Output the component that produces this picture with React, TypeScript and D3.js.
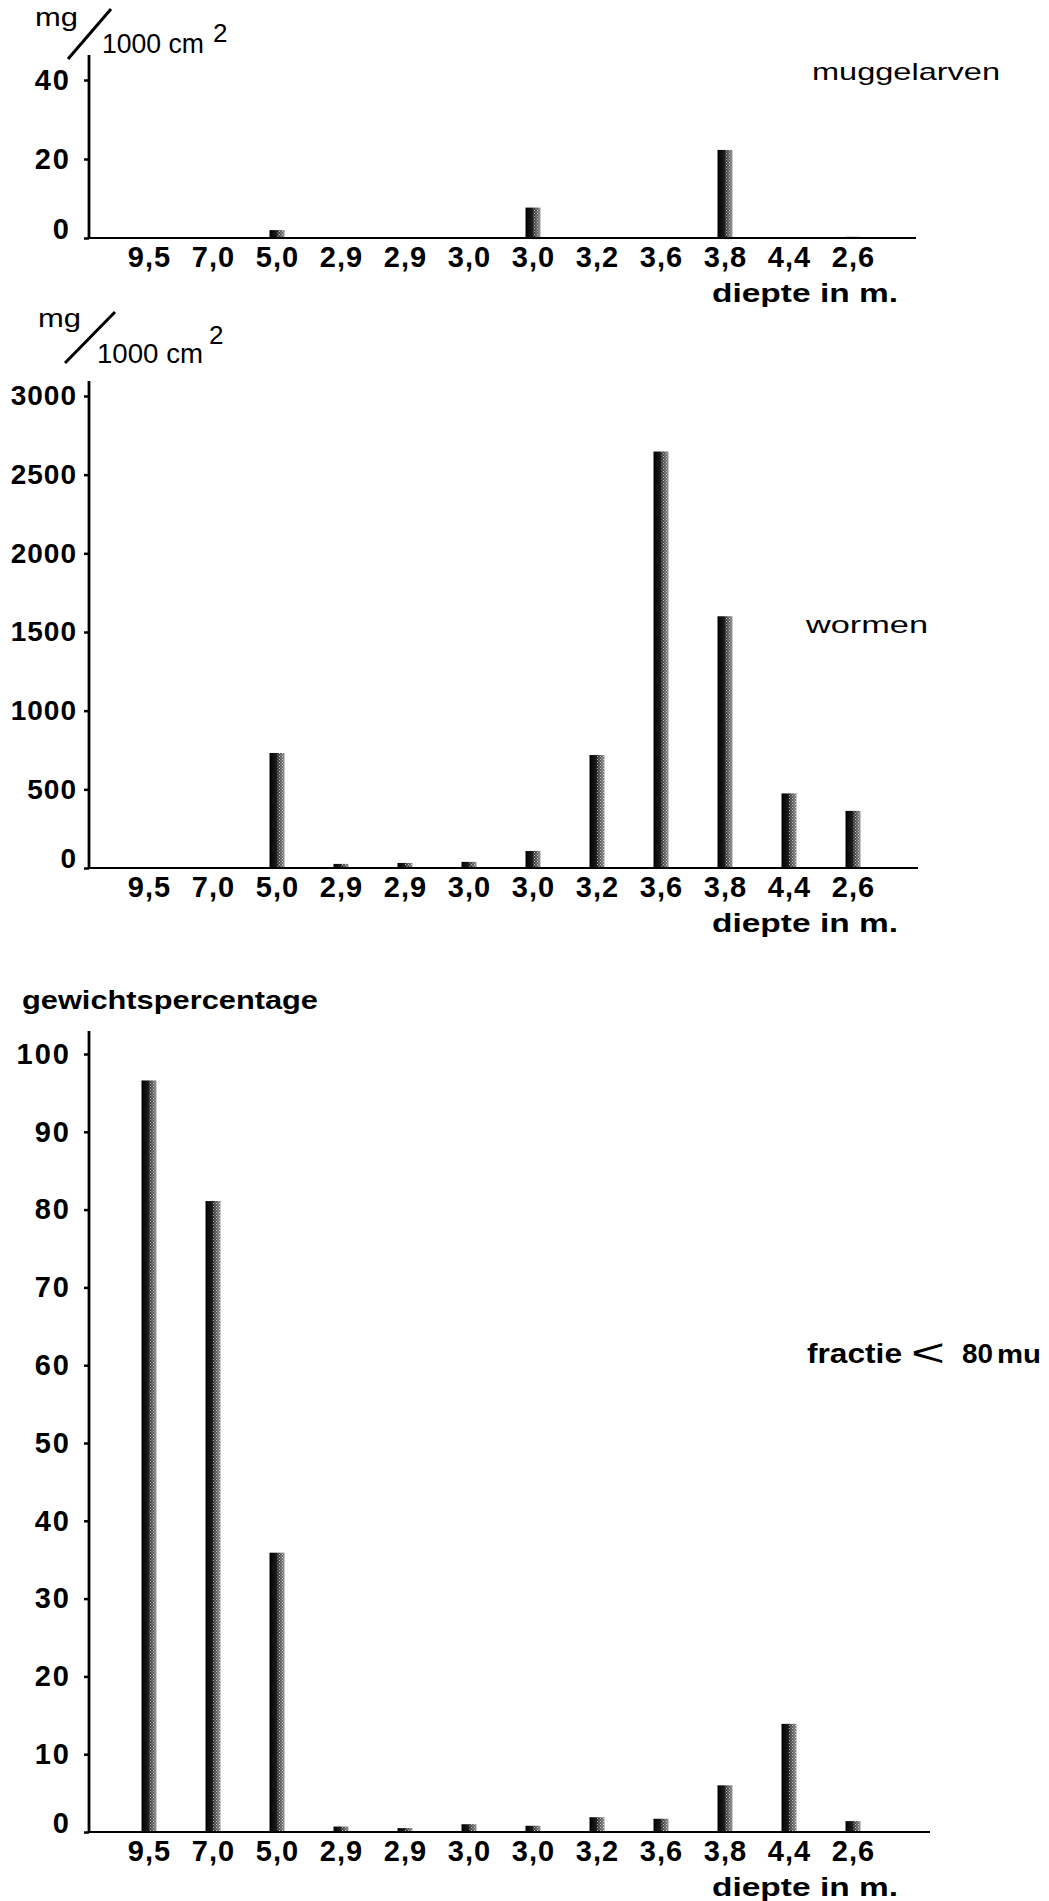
import React, { useEffect, useRef } from 'react';
import * as d3 from 'd3';

const categories = ['9,5', '7,0', '5,0', '2,9', '2,9', '3,0', '3,0', '3,2', '3,6', '3,8', '4,4', '2,6'];
const muggelarven = [0, 0, 2, 0, 0, 0, 7.7, 0, 0, 22.3, 0, 0.3];
const wormen = [0, 0, 731, 26, 32, 39, 108, 718, 2647, 1600, 474, 363];
const fractie = [96.6, 81.1, 35.9, 0.7, 0.5, 1.0, 0.8, 1.9, 1.7, 6.0, 13.9, 1.4];

const ticks1 = [0, 20, 40];
const ticks2 = [0, 500, 1000, 1500, 2000, 2500, 3000];
const ticks3 = [0, 10, 20, 30, 40, 50, 60, 70, 80, 90, 100];

const FONT = "'Liberation Sans', Arial, sans-serif";

function App() {
    const svgRef = useRef(null);

    useEffect(() => {
        const svg = d3.select(svgRef.current);
        svg.selectAll('*').remove();

        const defs = svg.append('defs');
        const grad = defs.append('linearGradient').attr('id', 'barFill')
            .attr('x1', 0).attr('x2', 1).attr('y1', 0).attr('y2', 0);
        grad.append('stop').attr('offset', '0%').attr('stop-color', '#000');
        grad.append('stop').attr('offset', '45%').attr('stop-color', '#1c1c1c');
        grad.append('stop').attr('offset', '100%').attr('stop-color', '#8a8a8a');

        // printed screen on the right half of the bars
        const pat = defs.append('pattern').attr('id', 'stipple')
            .attr('patternUnits', 'userSpaceOnUse').attr('width', 3).attr('height', 3);
        pat.append('rect').attr('x', 0).attr('y', 0).attr('width', 1).attr('height', 1).attr('fill', '#fff');
        pat.append('rect').attr('x', 1.5).attr('y', 1.5).attr('width', 1).attr('height', 1).attr('fill', '#fff');

        const axisX = 89;
        const x = d3.scalePoint().domain(d3.range(categories.length)).range([149, 853]);
        const barW = 15;

        function panel(values, domainMax, base, topTick, axisTop, tickVals, xEnd, tickFont, tickPad, tickSpacing) {
            const y = d3.scaleLinear().domain([0, domainMax]).range([base, topTick]);
            const g = svg.append('g');

            g.selectAll('rect.bar').data(values).join('rect')
                .attr('class', 'bar')
                .attr('x', (d, i) => x(i) - barW / 2)
                .attr('y', d => y(d))
                .attr('width', barW)
                .attr('height', d => base - y(d))
                .attr('fill', 'url(#barFill)');
            g.selectAll('rect.dots').data(values).join('rect')
                .attr('class', 'dots')
                .attr('x', (d, i) => x(i))
                .attr('y', d => y(d))
                .attr('width', barW / 2)
                .attr('height', d => base - y(d))
                .attr('fill', 'url(#stipple)')
                .attr('opacity', 0.7);

            const ya = g.append('g').attr('transform', `translate(${axisX},0)`)
                .call(d3.axisLeft(y).tickValues(tickVals).tickSize(5).tickPadding(tickPad).tickFormat(d => String(d)));
            ya.select('.domain').remove();
            ya.selectAll('line').attr('stroke', '#000').attr('stroke-width', 2.5);
            ya.selectAll('text')
                .style('font-family', FONT).style('font-weight', 'bold').style('font-size', tickFont + 'px')
                .style('letter-spacing', tickSpacing + 'px')
                .attr('fill', '#000');
            ya.selectAll('.tick').filter(d => d === 0).select('text').attr('y', -9);

            g.append('line')
                .attr('x1', axisX).attr('x2', axisX).attr('y1', axisTop).attr('y2', base + 1)
                .attr('stroke', '#000').attr('stroke-width', 2.8);

            const xa = g.append('g').attr('transform', `translate(0,${base})`)
                .call(d3.axisBottom(x).tickSize(0).tickPadding(8).tickFormat(i => categories[i]));
            xa.select('.domain').remove();
            xa.selectAll('text')
                .style('font-family', FONT).style('font-weight', 'bold').style('font-size', '29px')
                .style('letter-spacing', '1px')
                .attr('fill', '#000');

            g.append('line')
                .attr('x1', axisX).attr('x2', xEnd).attr('y1', base).attr('y2', base)
                .attr('stroke', '#000').attr('stroke-width', 2.2);

            g.append('text')
                .attr('x', 712).attr('y', base + 64)
                .attr('textLength', 186).attr('lengthAdjust', 'spacingAndGlyphs')
                .style('font-family', FONT).style('font-weight', 'bold').style('font-size', '25px')
                .text('diepte in m.');
        }

        // "mg / 1000 cm2" unit header
        function unitLabel(mg, slash, num, sup) {
            const h = svg.append('g');
            h.append('text').attr('x', mg[0]).attr('y', mg[1])
                .attr('textLength', 43).attr('lengthAdjust', 'spacingAndGlyphs')
                .style('font-family', FONT).style('font-size', '25px').text('mg');
            h.append('line').attr('x1', slash[0]).attr('y1', slash[1]).attr('x2', slash[2]).attr('y2', slash[3])
                .attr('stroke', '#000').attr('stroke-width', 3);
            h.append('text').attr('x', num[0]).attr('y', num[1])
                .attr('textLength', num[2]).attr('lengthAdjust', 'spacingAndGlyphs')
                .style('font-family', FONT).style('font-size', '28px').text('1000 cm');
            h.append('text').attr('x', sup[0]).attr('y', sup[1])
                .style('font-family', FONT).style('font-size', '26px').text('2');
        }

        unitLabel([35, 26], [68, 59, 111, 9], [102, 53, 102], [213, 42]);
        panel(muggelarven, 40, 238, 80, 55, ticks1, 916, 29, 13, 2);
        svg.append('text').attr('x', 812).attr('y', 80)
            .attr('textLength', 188).attr('lengthAdjust', 'spacingAndGlyphs')
            .style('font-family', FONT).style('font-size', '24px').text('muggelarven');

        unitLabel([38, 327], [65, 363, 115, 312], [97, 363, 106], [209, 344]);
        panel(wormen, 3000, 868, 396, 381, ticks2, 918, 28, 7, 1);
        svg.append('text').attr('x', 806).attr('y', 633)
            .attr('textLength', 122).attr('lengthAdjust', 'spacingAndGlyphs')
            .style('font-family', FONT).style('font-size', '24px').text('wormen');

        svg.append('text').attr('x', 22).attr('y', 1009)
            .attr('textLength', 296).attr('lengthAdjust', 'spacingAndGlyphs')
            .style('font-family', FONT).style('font-weight', 'bold').style('font-size', '26px')
            .text('gewichtspercentage');
        panel(fractie, 100, 1832, 1054, 1031, ticks3, 930, 29, 13, 2);

        const fr = svg.append('text').attr('y', 1363).style('font-family', FONT);
        fr.append('tspan').attr('x', 807).attr('textLength', 95).attr('lengthAdjust', 'spacingAndGlyphs')
            .style('font-weight', 'bold').style('font-size', '27px').text('fractie');
        fr.append('tspan').attr('x', 911).attr('y', 1366).attr('textLength', 34).attr('lengthAdjust', 'spacingAndGlyphs')
            .style('font-weight', 'normal').style('font-size', '38px').text('<');
        fr.append('tspan').attr('x', 962).attr('y', 1363).attr('textLength', 31).attr('lengthAdjust', 'spacingAndGlyphs')
            .style('font-weight', 'bold').style('font-size', '27px').text('80');
        fr.append('tspan').attr('x', 997).attr('textLength', 44).attr('lengthAdjust', 'spacingAndGlyphs')
            .style('font-weight', 'bold').style('font-size', '26px').text('mu');
    }, []);

    return (
        <svg ref={svgRef} width={1049} height={1901}
            style={{ position: 'absolute', left: 0, top: 0, background: '#fff' }} />
    );
}

export default App;
